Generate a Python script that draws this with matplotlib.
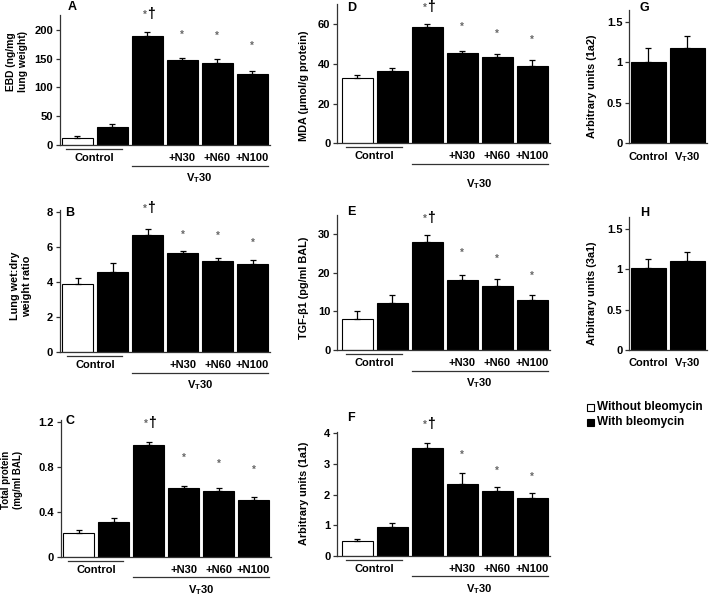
import matplotlib
matplotlib.use("Agg")
import matplotlib.pyplot as plt
from matplotlib.transforms import blended_transform_factory, ScaledTranslation

# ---------------- data ----------------
bleo6 = [False, True, True, True, True, True]
xlab6 = ["", "", "", "+N30", "+N60", "+N100"]

A_vals = [13, 32, 190, 148, 142, 124]
A_err = [3, 4, 7, 3, 8, 5]
B_vals = [3.87, 4.55, 6.7, 5.65, 5.2, 5.05]
B_err = [0.37, 0.55, 0.3, 0.14, 0.19, 0.19]
C_vals = [0.21, 0.31, 0.99, 0.61, 0.585, 0.505]
C_err = [0.03, 0.03, 0.03, 0.02, 0.03, 0.03]
D_vals = [33, 36.5, 58.5, 45.2, 43.2, 39]
D_err = [1.4, 1.3, 1.5, 1.3, 1.5, 2.9]
E_vals = [8, 12.2, 28, 18, 16.5, 13]
E_err = [2.0, 2.1, 1.8, 1.5, 1.9, 1.2]
F_vals = [0.47, 0.95, 3.53, 2.34, 2.12, 1.88]
F_err = [0.08, 0.11, 0.17, 0.36, 0.14, 0.16]
G_vals = [1.0, 1.18]
G_err = [0.18, 0.14]
H_vals = [1.02, 1.1]
H_err = [0.11, 0.12]
xlab2 = ["Control", "V$_\\mathrm{T}$30"]

# ---------------- fonts ----------------
plt.rcParams['font.family'] = ['Liberation Sans', 'DejaVu Sans']
plt.rcParams['font.weight'] = 'bold'
plt.rcParams['mathtext.fontset'] = 'custom'
plt.rcParams['mathtext.rm'] = 'Liberation Sans:bold'
plt.rcParams['mathtext.it'] = 'Liberation Sans:bold'
plt.rcParams['mathtext.bf'] = 'Liberation Sans:bold'

W, H = 709, 596
fig = plt.figure(figsize=(W / 100, H / 100), dpi=100)
SP = '#333333'
PT = 100 / 72.0  # px per point


def mkax(l, t, r, b):
    return fig.add_axes([l / W, 1 - b / H, (r - l) / W, (b - t) / H])


def px(ax, dy):
    return blended_transform_factory(ax.transData, ax.transAxes) + \
        ScaledTranslation(0, -dy / 100, fig.dpi_scale_trans)


def style(ax, rect, ylim, yticks, yticklabels, ylabel, lab):
    l, t, r, b = rect
    ax.set_ylim(*ylim)
    ax.set_yticks(yticks)
    ax.set_yticklabels(yticklabels, fontsize=8, fontweight='bold')
    ax.set_xticks([])
    for s in ['top', 'right']:
        ax.spines[s].set_visible(False)
    for s in ['left', 'bottom']:
        ax.spines[s].set_color(SP)
        ax.spines[s].set_linewidth(0.9)
    ax.tick_params(axis='y', length=3, width=0.9, color=SP, pad=2)
    xr, yc, fs = lab
    ax.set_ylabel(ylabel, fontsize=fs, fontweight='bold', linespacing=1.25)
    ax.yaxis.set_label_coords((xr - l) / (r - l), (b - yc) / (b - t))


def bars(ax, vals, errs, bleo, width):
    x = list(range(len(vals)))
    colors = ['black' if bb else 'white' for bb in bleo]
    ax.bar(x, vals, width=width, color=colors, edgecolor='black', linewidth=0.8, zorder=2)
    ax.errorbar(x, vals, yerr=[[0] * len(vals), errs], fmt='none', ecolor='black',
                elinewidth=0.9, capsize=2, capthick=0.9, zorder=3)


def six_panel(rect, xlim, vals, errs, ylim, yticks, yticklabels, ylabel, lab,
              dag_px, star_px, vt_dy=33):
    l, t, r, b = rect
    ax = mkax(l, t, r, b)
    ax.set_xlim(*xlim)
    bars(ax, vals, errs, bleo6, 0.88)
    style(ax, rect, ylim, yticks, yticklabels, ylabel, lab)
    tr_lab = px(ax, 13)
    ax.text(0.5, 0, "Control", transform=tr_lab, ha='center', va='center',
            fontsize=8, fontweight='bold')
    for i in range(3, 6):
        ax.text(i, 0, xlab6[i], transform=tr_lab, ha='center', va='center',
                fontsize=8, fontweight='bold')
    ax.plot([-0.32, 1.27], [0, 0], transform=px(ax, 4), color=SP, lw=0.9, clip_on=False)
    ax.plot([1.56, 5.45], [0, 0], transform=px(ax, 20.5), color=SP, lw=0.9, clip_on=False)
    ax.text(3.5, 0, "V$_\\mathrm{T}$30", transform=px(ax, vt_dy), ha='center', va='center',
            fontsize=8, fontweight='bold')
    for i in range(2, 6):
        top = vals[i] + errs[i]
        if i == 2:
            ax.annotate("*", (i, top), xytext=(-0.3, (dag_px - 1) / PT), textcoords='offset points',
                        ha='right', va='center', fontsize=7, color='#666666', annotation_clip=False)
            ax.annotate("\u2020", (i, top), xytext=(-0.3, dag_px / PT), textcoords='offset points',
                        ha='left', va='center', fontsize=10, color='black', fontweight='bold',
                        annotation_clip=False)
        else:
            ax.annotate("*", (i, top), xytext=(0, (star_px[i - 3] - 3) / PT),
                        textcoords='offset points', ha='center', va='center', fontsize=7,
                        color='#666666', annotation_clip=False)
    return ax


def two_panel(rect, vals, errs, ylim, yticks, yticklabels, ylabel, lab):
    l, t, r, b = rect
    ax = mkax(l, t, r, b)
    ax.set_xlim(-0.49, 1.5)
    bars(ax, vals, errs, [True, True], 0.9)
    style(ax, rect, ylim, yticks, yticklabels, ylabel, lab)
    for i in range(2):
        ax.text(i, 0, xlab2[i], transform=px(ax, 13.5), ha='center', va='center',
                fontsize=8, fontweight='bold')
    return ax


six_panel((60, 15, 269.6, 145), (-0.49, 5.5), A_vals, A_err, (0, 226),
          [0, 50, 100, 150, 200], ['0', '50', '100', '150', '200'],
          "EBD (ng/mg\nlung weight)", (28, 62, 7.4), 18, [26, 26, 28])
six_panel((60, 209.9, 270, 352.3), (-0.51, 5.5), B_vals, B_err, (0, 8.1),
          [0, 2, 4, 6, 8], ['0', '2', '4', '6', '8'],
          "Lung wet:dry\nweight ratio", (32, 286, 7.8), 21, [19, 25, 20])
six_panel((61, 419.5, 271, 556.7), (-0.51, 5.5), C_vals, C_err, (0, 1.22),
          [0, 0.4, 0.8, 1.2], ['0', '0.4', '0.8', '1.2'],
          "Total protein\n(mg/ml BAL)", (23, 480, 7.0), 19, [31, 27, 30])
six_panel((337.3, 4, 549.8, 143.3), (-0.57, 5.5), D_vals, D_err, (0, 70),
          [0, 20, 40, 60], ['0', '20', '40', '60'],
          "MDA (\u03bcmol/g protein)", (309, 86, 7.8), 17, [27, 24, 23], vt_dy=41)
six_panel((337.3, 214.7, 549.8, 350), (-0.57, 5.5), E_vals, E_err, (0, 35),
          [0, 10, 20, 30], ['0', '10', '20', '30'],
          "TGF-\u03b21 (pg/ml BAL)", (309, 288, 7.8), 16.5, [25, 23, 22])
six_panel((337.3, 431.9, 549.8, 555.7), (-0.57, 5.5), F_vals, F_err, (0, 4.05),
          [0, 1, 2, 3, 4], ['0', '1', '2', '3', '4'],
          "Arbitrary units (1a1)", (309, 493, 7.8), 19, [21, 19, 19])
two_panel((629.3, 9.9, 706.9, 143.3), G_vals, G_err, (0, 1.645),
          [0, 0.5, 1, 1.5], ['0', '0.5', '1', '1.5'], "Arbitrary units (1a2)",
          (597, 86, 7.8))
two_panel((629.3, 216.9, 706.9, 350), H_vals, H_err, (0, 1.65),
          [0, 0.5, 1, 1.5], ['0', '0.5', '1', '1.5'], "Arbitrary units (3a1)",
          (597, 293, 7.8))

# panel letters
letters = [("A", 68, 7), ("B", 65, 213), ("C", 65, 421), ("D", 347, 8),
           ("E", 347, 212), ("F", 347, 418), ("G", 640, 8), ("H", 640, 213)]
for s, x, y in letters:
    fig.text(x / W, 1 - y / H, s, ha='left', va='center', fontsize=9, fontweight='bold')

# legend
leg = [("Without bleomycin", 'white', 407), ("With bleomycin", 'black', 422)]
for label, c, y in leg:
    fig.patches.append(plt.Rectangle((587 / W, 1 - (y + 3.5) / H), 7 / W, 7 / H,
                                     transform=fig.transFigure, facecolor=c,
                                     edgecolor='black', linewidth=0.8))
    fig.text(597 / W, 1 - y / H, label, ha='left', va='center', fontsize=8.5,
             fontweight='bold')

fig.savefig("out.png", dpi=100, facecolor='white')
